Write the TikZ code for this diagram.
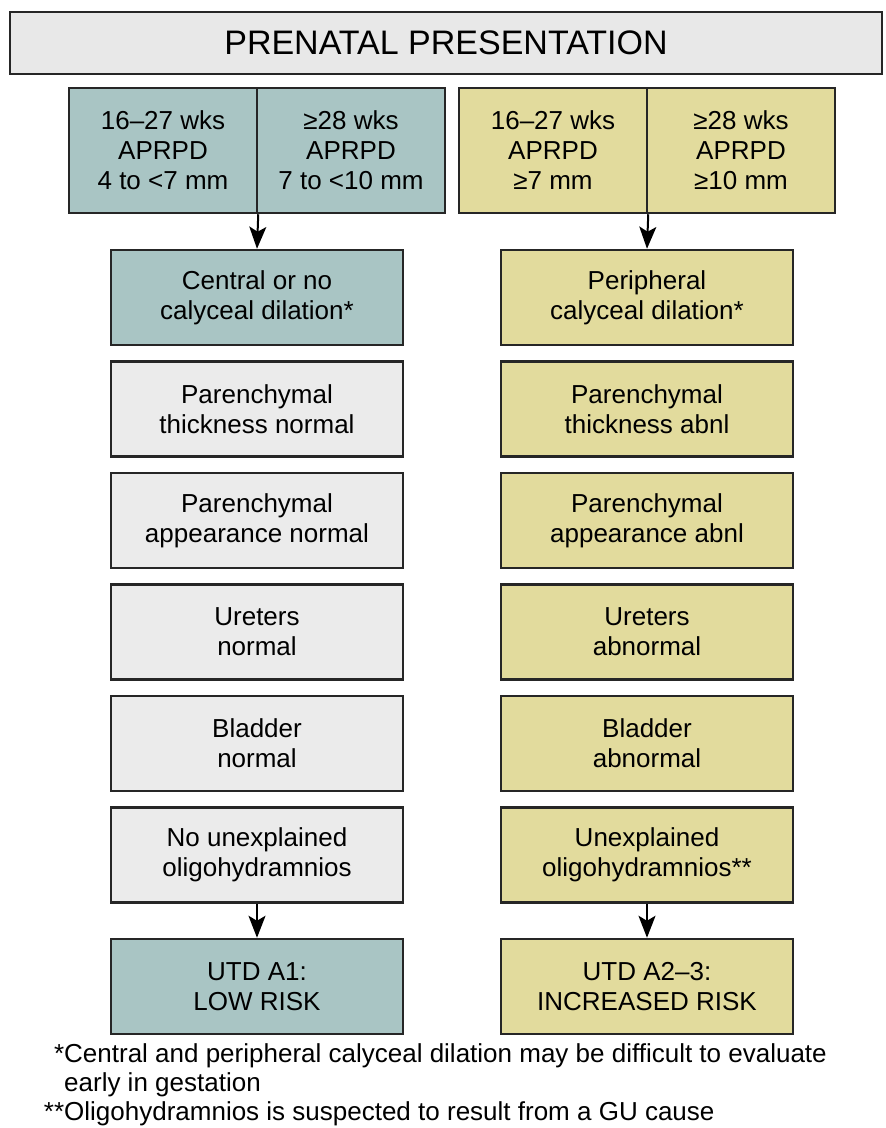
\documentclass[tikz,border=0pt]{standalone}
\usepackage{fontspec}
\setmainfont{Liberation Sans}
\usetikzlibrary{arrows.meta,positioning}
\definecolor{lowrisk}{HTML}{A9C5C4}
\definecolor{highrisk}{HTML}{E2DB9D}
\definecolor{plainbox}{HTML}{EBEBEB}
\definecolor{titlegray}{HTML}{E8E8E8}

\begin{document}
\begin{tikzpicture}[x=1pt,y=-1pt,
  box/.style={draw=black!85,line width=2.5pt,minimum width=292pt,minimum height=95pt,
              align=center,inner sep=0pt,font=\fontsize{26}{30}\selectfont},
  half/.style={box,minimum width=188pt,minimum height=125pt},
  low/.style={fill=lowrisk},
  high/.style={fill=highrisk},
  plain/.style={fill=plainbox},
  arr/.style={-{Stealth[length=22pt,width=17pt,inset=5pt]},line width=2pt}]
\useasboundingbox (0,0) rectangle (886,1128);

% title
\node[box,fill=titlegray,minimum width=872pt,minimum height=62pt,
      font=\fontsize{34}{38}\selectfont] (title) at (446,43) {PRENATAL PRESENTATION};

% gestational age boxes
\node[half,low]  (l16) at (163,150.5) {16--27 wks\\APRPD\\4 to <7 mm};
\node[half,low]  (l28) at (351,150.5) {≥28 wks\\APRPD\\7 to <10 mm};
\node[half,high] (r16) at (553,150.5) {16--27 wks\\APRPD\\≥7 mm};
\node[half,high] (r28) at (741,150.5) {≥28 wks\\APRPD\\≥10 mm};

% low risk column
\node[box,low]   (lcal) at (257,297.5) {Central or no\\calyceal dilation*};
\node[box,plain,below=14pt of lcal] (lthk) {Parenchymal\\thickness normal};
\node[box,plain,below=14pt of lthk] (lapp) {Parenchymal\\appearance normal};
\node[box,plain,below=14pt of lapp] (lure) {Ureters\\normal};
\node[box,plain,below=14pt of lure] (lbla) {Bladder\\normal};
\node[box,plain,below=14pt of lbla] (loli) {No unexplained\\oligohydramnios};
\node[box,low,below=34pt of loli]   (lutd) {UTD A1:\\LOW RISK};

% increased risk column
\node[box,high]  (rcal) at (647,297.5) {Peripheral\\calyceal dilation*};
\node[box,high,below=14pt of rcal] (rthk) {Parenchymal\\thickness abnl};
\node[box,high,below=14pt of rthk] (rapp) {Parenchymal\\appearance abnl};
\node[box,high,below=14pt of rapp] (rure) {Ureters\\abnormal};
\node[box,high,below=14pt of rure] (rbla) {Bladder\\abnormal};
\node[box,high,below=14pt of rbla] (roli) {Unexplained\\oligohydramnios**};
\node[box,high,below=34pt of roli] (rutd) {UTD A2--3:\\INCREASED RISK};

\draw[arr] (l16.south east) -- (lcal.north);
\draw[arr] (r16.south east) -- (rcal.north);
\draw[arr] (loli) -- (lutd);
\draw[arr] (roli) -- (rutd);

% footnotes
\node[anchor=north west,align=left,inner sep=0pt,font=\fontsize{26}{29}\selectfont] (notes) at (64,1043)
  {\llap{*}Central and peripheral calyceal dilation may be difficult to evaluate\\
   early in gestation\\
   \llap{**}Oligohydramnios is suspected to result from a GU cause};
\end{tikzpicture}
\end{document}
